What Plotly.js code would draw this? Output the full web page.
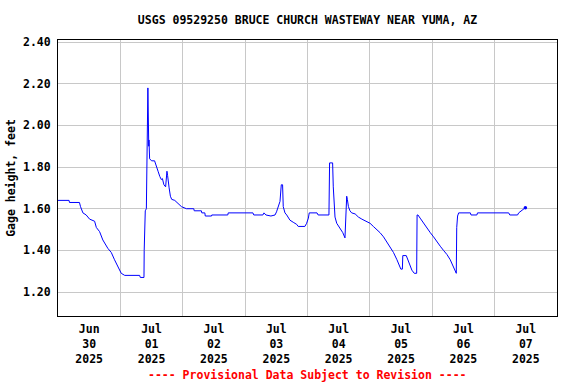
<!DOCTYPE html>
<html>
<head>
<meta charset="utf-8">
<script src="https://cdn.plot.ly/plotly-3.0.1.min.js"></script>
<style>html,body{margin:0;padding:0;background:#fff}#chart{width:576px;height:384px}</style>
</head>
<body>
<div id="chart"></div>
<script>
var chartTitle = "USGS 09529250 BRUCE CHURCH WASTEWAY NEAR YUMA, AZ";
var yAxisTitle = "Gage height, feet";
var footnote = "---- Provisional Data Subject to Revision ----";

var times = [
"2025-06-30 00:00","2025-06-30 04:15","2025-06-30 04:25","2025-06-30 08:15","2025-06-30 08:40",
"2025-06-30 09:35","2025-06-30 10:50","2025-06-30 12:10","2025-06-30 14:05","2025-06-30 14:45",
"2025-06-30 16:00","2025-06-30 17:15","2025-06-30 19:10","2025-06-30 20:30","2025-06-30 21:45",
"2025-06-30 23:05","2025-07-01 00:20","2025-07-01 01:40","2025-07-01 02:25","2025-07-01 07:25",
"2025-07-01 07:40","2025-07-01 09:05","2025-07-01 09:10","2025-07-01 09:35","2025-07-01 10:00",
"2025-07-01 10:15","2025-07-01 10:35","2025-07-01 10:55","2025-07-01 11:00","2025-07-01 11:15",
"2025-07-01 12:00","2025-07-01 13:10","2025-07-01 13:50","2025-07-01 14:30","2025-07-01 15:10",
"2025-07-01 15:45","2025-07-01 16:10","2025-07-01 16:45","2025-07-01 17:25","2025-07-01 17:55",
"2025-07-01 18:10","2025-07-01 18:25","2025-07-01 18:45","2025-07-01 19:15","2025-07-01 19:45",
"2025-07-01 20:55","2025-07-01 22:10","2025-07-01 23:30","2025-07-02 01:25","2025-07-02 04:15",
"2025-07-02 04:25","2025-07-02 07:10","2025-07-02 07:20","2025-07-02 08:30","2025-07-02 08:40",
"2025-07-02 11:05","2025-07-02 11:10","2025-07-02 17:20","2025-07-02 17:30","2025-07-03 03:00",
"2025-07-03 03:20","2025-07-03 06:50","2025-07-03 07:15","2025-07-03 08:00","2025-07-03 09:55",
"2025-07-03 11:30","2025-07-03 12:05","2025-07-03 12:45","2025-07-03 13:25","2025-07-03 13:55",
"2025-07-03 14:25","2025-07-03 14:40","2025-07-03 15:20","2025-07-03 16:00","2025-07-03 17:15",
"2025-07-03 18:30","2025-07-03 19:50","2025-07-03 20:25","2025-07-03 23:00","2025-07-03 23:40",
"2025-07-04 00:20","2025-07-04 00:40","2025-07-04 03:40","2025-07-04 04:05","2025-07-04 08:15",
"2025-07-04 08:30","2025-07-04 09:40","2025-07-04 09:55","2025-07-04 10:35","2025-07-04 11:15",
"2025-07-04 12:30","2025-07-04 13:35","2025-07-04 14:25","2025-07-04 14:45","2025-07-04 15:05",
"2025-07-04 15:20","2025-07-04 15:45","2025-07-04 16:20","2025-07-04 17:00","2025-07-04 18:20",
"2025-07-04 19:35","2025-07-04 20:55","2025-07-04 22:50","2025-07-05 00:05","2025-07-05 01:20",
"2025-07-05 02:40","2025-07-05 03:55","2025-07-05 05:15","2025-07-05 06:30","2025-07-05 07:50",
"2025-07-05 09:05","2025-07-05 10:25","2025-07-05 11:25","2025-07-05 11:55","2025-07-05 12:30",
"2025-07-05 12:40","2025-07-05 14:00","2025-07-05 14:35","2025-07-05 15:30","2025-07-05 16:10",
"2025-07-05 17:05","2025-07-05 18:00","2025-07-05 18:10","2025-07-05 18:30","2025-07-05 19:20",
"2025-07-05 20:40","2025-07-05 21:55","2025-07-05 23:15","2025-07-06 00:30","2025-07-06 01:50",
"2025-07-06 03:05","2025-07-06 04:20","2025-07-06 05:40","2025-07-06 06:55","2025-07-06 08:10",
"2025-07-06 09:15","2025-07-06 09:25","2025-07-06 09:45","2025-07-06 10:10","2025-07-06 14:40",
"2025-07-06 14:55","2025-07-06 17:10","2025-07-06 17:25","2025-07-07 05:25","2025-07-07 05:50",
"2025-07-07 08:50","2025-07-07 09:15","2025-07-07 10:20","2025-07-07 11:10","2025-07-07 11:50"
];

var gage = [
1.64,1.64,1.63,1.63,1.61,
1.58,1.57,1.55,1.54,1.51,
1.49,1.45,1.41,1.39,1.355,
1.32,1.29,1.28,1.28,1.28,
1.27,1.27,1.40,1.59,1.60,
1.88,2.18,1.90,1.93,1.84,
1.83,1.83,1.80,1.78,1.755,
1.74,1.745,1.715,1.705,1.78,
1.76,1.71,1.70,1.66,1.645,
1.64,1.625,1.61,1.60,1.60,
1.59,1.59,1.58,1.58,1.565,
1.565,1.57,1.57,1.58,1.58,
1.57,1.57,1.58,1.57,1.565,
1.57,1.585,1.61,1.635,1.715,
1.715,1.61,1.58,1.57,1.545,
1.535,1.525,1.515,1.515,1.53,
1.555,1.58,1.58,1.57,1.57,
1.82,1.82,1.705,1.56,1.53,
1.505,1.485,1.46,1.56,1.66,
1.645,1.61,1.59,1.58,1.575,
1.56,1.55,1.54,1.53,1.515,
1.50,1.485,1.465,1.44,1.42,
1.39,1.355,1.325,1.31,1.31,
1.375,1.375,1.355,1.32,1.305,
1.29,1.29,1.57,1.57,1.555,
1.53,1.505,1.485,1.465,1.44,
1.42,1.40,1.38,1.355,1.32,
1.29,1.51,1.565,1.58,1.58,
1.57,1.57,1.58,1.58,1.57,
1.57,1.58,1.59,1.60,1.605
];

var yTicks = [1.20,1.40,1.60,1.80,2.00,2.20,2.40];

var fontFam = "DejaVu Sans Mono, Liberation Mono, monospace";
var baseFont = {family: fontFam, size: 11.5, color: "#000", weight: "bold"};

var traces = [
  {x: times, y: gage, type: "scatter", mode: "lines",
   line: {color: "#0000ff", width: 1}, hoverinfo: "skip"},
  {x: [times[times.length-1]], y: [gage[gage.length-1]], type: "scatter", mode: "markers",
   marker: {color: "#0000ff", size: 3.5}, hoverinfo: "skip"}
];

var layout = {
  width: 576, height: 384,
  margin: {l: 58, r: 19, t: 40, b: 68},
  paper_bgcolor: "#fff", plot_bgcolor: "#fff",
  showlegend: false,
  font: baseFont,
  title: {text: chartTitle, font: baseFont, x: 0.5, xref: "paper", y: 0.948, yref: "container", yanchor: "middle"},
  xaxis: {
    type: "date",
    range: ["2025-06-30 00:00", "2025-07-08 00:00"],
    tick0: "2025-06-30", dtick: 86400000,
    ticklabelmode: "period",
    tickformat: "%b<br>%d<br>%Y",
    ticks: "",
    ticklabelstandoff: 2,
    showgrid: true, gridcolor: "#c8c8c8", gridwidth: 1,
    showline: true, linecolor: "#000", linewidth: 1, mirror: true,
    zeroline: false,
    tickfont: baseFont,
    fixedrange: true
  },
  yaxis: {
    range: [1.085, 2.41],
    tickvals: yTicks,
    tickformat: ".2f",
    ticks: "",
    ticklabelstandoff: 4,
    showgrid: true, gridcolor: "#c8c8c8", gridwidth: 1,
    showline: true, linecolor: "#000", linewidth: 1, mirror: true,
    zeroline: false,
    tickfont: baseFont,
    title: {text: yAxisTitle, font: baseFont, standoff: 4},
    fixedrange: true
  },
  annotations: [
    {text: footnote, xref: "paper", yref: "paper", x: 0.5, y: -0.215, xanchor: "center", yanchor: "middle",
     showarrow: false, font: {family: fontFam, size: 11.5, color: "#ff0000", weight: "bold"}}
  ]
};

Plotly.newPlot("chart", traces, layout, {displayModeBar: false, staticPlot: true});
</script>
</body>
</html>
